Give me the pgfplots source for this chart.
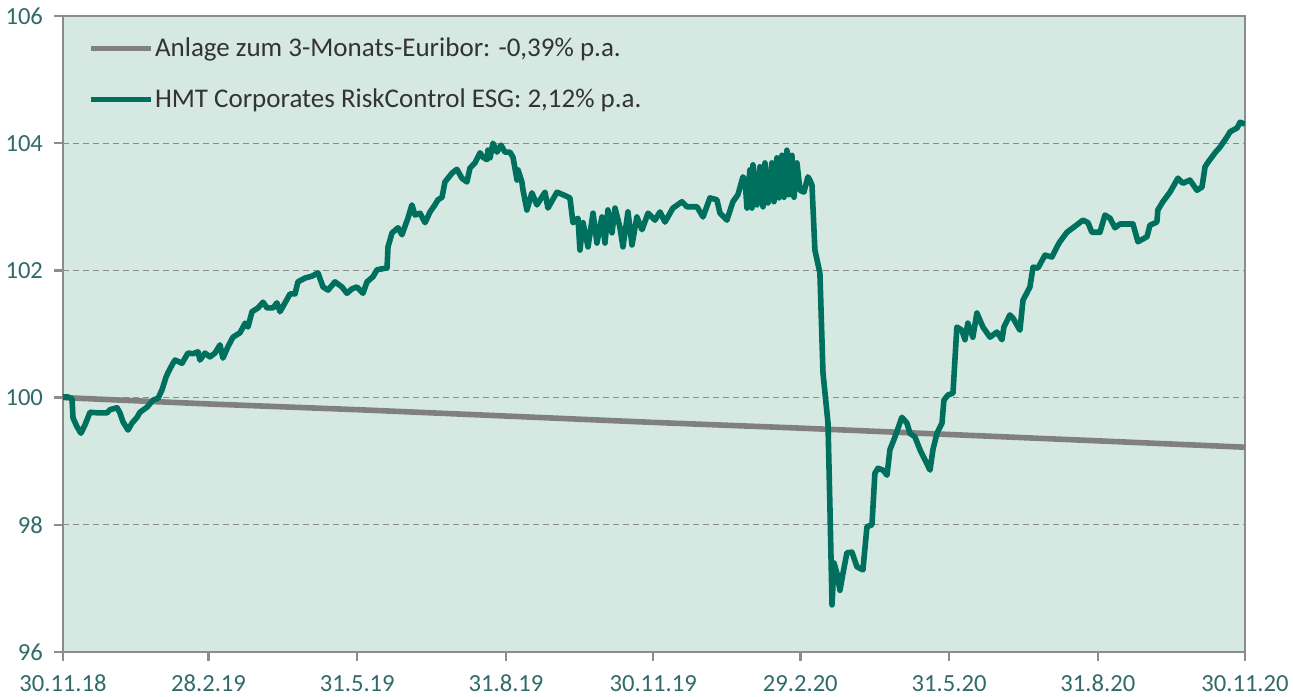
\documentclass[border=0pt]{standalone}
\usepackage{fontspec}
\setmainfont{Carlito}
\usepackage{pgfplots}
\pgfplotsset{compat=1.18}
\definecolor{bgc}{HTML}{D6E8E2}
\definecolor{grn}{HTML}{00705E}
\definecolor{gry}{HTML}{808080}
\definecolor{axc}{HTML}{8C8C8C}
\definecolor{labc}{HTML}{2F6B68}
\pgfplotstableread{
d v
0 100.00
90 99.90
182 99.81
274 99.71
365 99.61
456 99.52
548 99.42
640 99.32
731 99.22
}\euribor
\pgfplotstableread{
d v
0 100.01
3.1 100.01
5.6 99.98
6.2 99.68
8.7 99.54
11.1 99.44
13.6 99.57
16.7 99.77
21.6 99.76
27.2 99.76
29.1 99.81
33.4 99.84
35.2 99.76
37.1 99.62
40.2 99.49
42.7 99.60
45.8 99.69
47.6 99.77
52.0 99.85
55.7 99.96
58.8 99.99
61.2 100.12
63.7 100.32
64.9 100.39
68.0 100.54
69.3 100.59
73.6 100.54
77.3 100.70
80.4 100.69
83.5 100.72
84.7 100.59
87.8 100.70
90.9 100.64
94.0 100.70
97.1 100.83
98.9 100.62
102.0 100.80
105.1 100.95
109.5 101.02
112.6 101.17
114.4 101.11
116.9 101.35
120.6 101.41
123.7 101.50
126.2 101.41
129.9 101.41
132.3 101.49
134.2 101.35
137.3 101.49
140.4 101.63
143.5 101.63
145.3 101.82
149.7 101.88
154.0 101.91
157.7 101.96
160.8 101.74
163.9 101.69
168.2 101.82
172.5 101.74
175.6 101.64
178.7 101.71
181.8 101.74
185.5 101.64
188.0 101.82
191.7 101.90
194.2 102.01
200.4 102.04
201.0 102.37
203.5 102.59
207.2 102.67
209.6 102.56
213.3 102.82
215.8 103.03
217.7 102.87
220.8 102.90
223.9 102.75
227.0 102.92
230.0 103.03
231.9 103.11
234.4 103.15
236.2 103.39
240.6 103.53
243.6 103.59
246.7 103.45
249.8 103.39
251.7 103.61
254.8 103.69
257.9 103.85
259.7 103.78
262.2 103.74
262.8 103.89
264.1 103.77
265.9 104.00
268.4 103.86
270.9 103.97
273.3 103.86
276.4 103.86
278.3 103.78
280.8 103.42
281.4 103.58
283.8 103.39
284.5 103.26
286.9 102.95
290.0 103.22
293.1 103.03
298.1 103.23
299.9 102.98
305.5 103.23
309.2 103.19
313.5 103.14
315.4 102.75
318.5 102.82
319.7 102.32
321.6 102.75
324.7 102.37
327.8 102.90
330.2 102.43
333.3 102.84
335.2 102.43
337.0 102.95
339.5 102.59
341.4 102.98
344.4 102.68
346.3 102.37
349.4 102.92
351.9 102.40
354.9 102.84
358.1 102.64
361.8 102.90
366.1 102.79
369.2 102.92
372.3 102.76
377.2 102.98
382.8 103.08
385.9 103.00
392.1 103.00
395.8 102.84
400.1 103.14
404.4 103.11
406.3 102.90
410.6 102.79
414.3 103.08
417.4 103.19
420.5 103.47
421.8 103.42
423.0 102.98
424.8 103.58
426.1 102.98
426.7 103.66
429.2 103.03
431.0 103.63
432.9 103.00
434.1 103.69
436.0 103.06
438.4 103.69
439.7 103.08
441.5 103.77
442.8 103.14
444.6 103.81
445.9 103.15
447.7 103.89
449.0 103.19
450.8 103.81
452.1 103.15
453.9 103.69
455.8 103.26
458.2 103.23
460.7 103.47
461.9 103.42
463.2 103.34
465.0 102.32
468.1 101.96
470.0 100.39
473.1 99.60
474.3 98.28
475.6 96.74
476.8 97.40
478.6 97.24
480.5 96.97
482.4 97.24
484.8 97.56
487.9 97.57
491.0 97.34
494.7 97.29
497.2 97.97
500.3 98.00
502.1 98.81
504.0 98.89
507.1 98.86
509.6 98.78
511.4 99.18
514.5 99.38
518.8 99.69
521.9 99.60
523.8 99.44
526.9 99.38
530.0 99.18
533.1 99.02
536.2 98.86
538.0 99.18
540.5 99.44
543.6 99.60
544.8 99.96
547.3 100.04
550.4 100.07
552.8 101.11
555.9 101.06
557.8 100.91
559.6 101.17
562.7 100.95
565.2 101.33
568.9 101.11
573.3 100.95
577.6 101.03
580.7 100.91
581.9 101.11
585.6 101.30
587.5 101.25
591.8 101.06
593.7 101.53
598.0 101.74
599.9 102.05
603.0 102.04
607.3 102.24
611.6 102.21
614.7 102.37
616.5 102.45
620.9 102.60
624.6 102.67
630.8 102.79
633.9 102.75
636.3 102.60
641.3 102.60
644.4 102.87
647.5 102.82
650.6 102.67
653.7 102.73
661.7 102.73
664.8 102.45
670.4 102.53
672.2 102.71
676.5 102.76
677.1 102.95
680.2 103.08
684.6 103.23
689.5 103.45
692.6 103.37
696.9 103.42
701.3 103.26
704.4 103.31
706.3 103.63
708.1 103.70
712.5 103.85
715.6 103.94
719.9 104.10
721.8 104.18
726.1 104.24
728.0 104.33
731.0 104.30
}\hmt
\begin{document}
\begin{tikzpicture}
\begin{axis}[
  scale only axis, width=591pt, height=318pt,
  xmin=0, xmax=731, ymin=96, ymax=106,
  axis background/.style={fill=bgc},
  axis line style={draw=axc, line width=1.2pt},
  xtick={0,90,182,274,365,456,548,640,731},
  xticklabels={30.11.18,28.2.19,31.5.19,31.8.19,30.11.19,29.2.20,31.5.20,31.8.20,30.11.20},
  ytick={96,98,100,102,104,106},
  xtick pos=bottom, ytick pos=left, tick align=outside,
  major tick length=4.5pt,
  tick style={draw=axc, line width=1.2pt},
  ymajorgrids,
  grid style={dash pattern=on 3pt off 2pt, draw=gray!90, line width=0.5pt},
  ticklabel style={font=\fontsize{12.3}{14}\selectfont, text=labc},
  /pgf/number format/assume math mode=true,
  yticklabel style={xshift=-2pt},
  xticklabel style={yshift=-3.5pt},
  legend cell align=left,
  legend style={at={(rel axis cs:0.0212,0.968)}, anchor=north west, draw=none, fill=none,
    inner sep=0pt, row sep=13.5pt, font=\fontsize{13.5}{16}\selectfont,
    nodes={inner sep=0.5pt, text=black!80}},
  legend image code/.code={\draw[#1] (0pt,0pt) -- (30pt,0pt);},
]
\addplot[gry, line width=2.8pt] table[x=d, y=v] {\euribor};
\addlegendentry{Anlage zum 3-Monats-Euribor: -0,39\% p.a.}
\addplot[grn, line width=2.8pt, line join=round] table[x=d, y=v] {\hmt};
\addlegendentry{HMT Corporates RiskControl ESG: 2,12\% p.a.}
\end{axis}
\pgfresetboundingbox
\path ([shift={(-31.5pt,-22.5pt)}]current axis.south west) rectangle ([shift={(24pt,8pt)}]current axis.north east);
\end{tikzpicture}
\end{document}
